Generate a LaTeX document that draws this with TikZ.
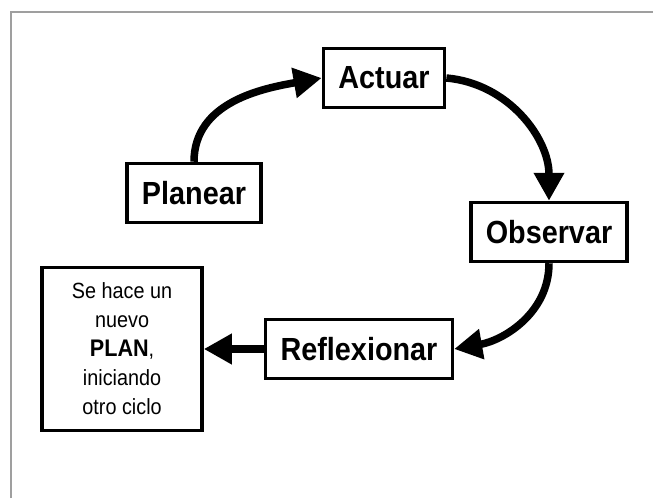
\documentclass[tikz,border=0pt]{standalone}
\usepackage{fontspec}
\setmainfont{Liberation Sans}
\newfontfamily\etapafont{Liberation Sans}[FakeStretch=0.9]
\usepackage{tikz}
\usetikzlibrary{arrows.meta, positioning}

\begin{document}
\begin{tikzpicture}[x=1pt, y=-1pt,
  etapa/.style={rectangle, draw=black, line width=3.5pt, fill=white,
                minimum height=59pt, inner xsep=15pt,
                font=\etapafont\bfseries\fontsize{32}{36}\selectfont},
  nota/.style={rectangle, draw=black, line width=3.5pt, fill=white,
               minimum width=160pt, minimum height=163pt, align=center,
               font=\etapafont\fontsize{22}{29}\selectfont},
  flecha/.style={-{Triangle[length=28pt, width=29pt]}, line width=7.5pt},
]
  \useasboundingbox (0,0) rectangle (653,498);
  % Outer frame (only top and left edges visible)
  \draw[gray!75, line width=2pt] (11,498) -- (11,12) -- (653,12);

  % The cycle
  \node[etapa] (actuar) at (384,78) {Actuar};
  \node[etapa] (planear) at (194,193) {Planear};
  \node[etapa] (observar) at (549,232) {Observar};
  \node[etapa] (reflexionar) at (359,349) {Reflexionar};

  \draw[flecha] (planear.north) to[out=90, in=190] (actuar.west);
  \draw[flecha] (actuar.east) to[out=-5, in=90] (observar.north);
  \draw[flecha] (observar.south) to[out=-90, in=10] (reflexionar.east);

  % New plan
  \node[nota, left=60pt of reflexionar] (nota)
    {Se hace un\\nuevo\\{\bfseries\fontsize{24}{29}\selectfont PLAN},\\iniciando\\otro ciclo};
  \draw[flecha] (reflexionar) -- (nota);
\end{tikzpicture}
\end{document}
